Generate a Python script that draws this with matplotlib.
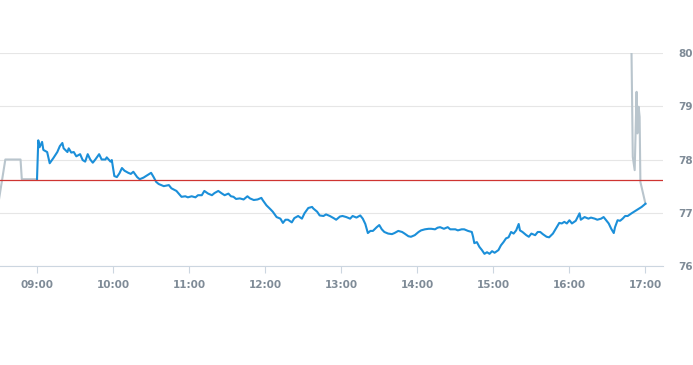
import matplotlib
matplotlib.use("Agg")
import matplotlib.pyplot as plt

# minutes after 09:00 and price
blue_minutes = [0, 1, 2, 4, 5, 8, 10, 13, 16, 18, 20, 21, 24, 25, 27, 29, 31, 34, 36, 38,
                40, 42, 44, 46, 49, 51, 54, 55, 58, 59, 61, 63, 65, 67, 69, 72, 74, 76, 79, 81,
                84, 86, 90, 92, 94, 96, 100, 104, 106, 110, 114, 117, 119, 122, 125, 127, 130,
                132, 135, 138, 140, 143, 146, 148, 151, 153, 155, 157, 160, 163, 166, 168, 171,
                174, 177, 178, 181, 184, 186, 189, 192, 194, 196, 198, 201, 203, 206, 209, 211,
                214, 217, 218, 221, 223, 226, 228, 231, 234, 236, 239, 241, 244, 247, 249, 252,
                255, 257, 259, 261, 263, 265, 268, 270, 272, 274, 277, 280, 282, 285, 288, 290,
                293, 295, 298, 301, 303, 306, 309, 311, 314, 316, 318, 321, 324, 326, 330, 332,
                335, 337, 340, 343, 344, 345, 347, 349, 351, 353, 355, 357, 359, 361, 364, 366,
                368, 370, 372, 374, 376, 378, 380, 381, 383, 386, 388, 390, 393, 395, 397, 399,
                402, 404, 407, 410, 412, 414, 416, 418, 420, 422, 425, 428, 429, 432, 435, 437,
                440, 442, 445, 447, 449, 451, 453, 455, 456, 458, 460, 462, 464, 466, 469, 473,
                477, 480]
blue_values = [77.63, 78.36, 78.23, 78.33, 78.18, 78.14, 77.93, 78.03, 78.14, 78.25, 78.31,
               78.21, 78.14, 78.21, 78.13, 78.14, 78.06, 78.10, 77.99, 77.96, 78.10, 78.00,
               77.94, 78.00, 78.10, 78.00, 78.00, 78.04, 77.96, 77.99, 77.69, 77.67, 77.74,
               77.84, 77.79, 77.75, 77.73, 77.77, 77.67, 77.63, 77.66, 77.69, 77.75, 77.67,
               77.58, 77.54, 77.50, 77.52, 77.46, 77.41, 77.30, 77.31, 77.29, 77.31, 77.29,
               77.33, 77.33, 77.41, 77.36, 77.33, 77.37, 77.41, 77.36, 77.33, 77.36, 77.31,
               77.30, 77.26, 77.27, 77.25, 77.31, 77.27, 77.24, 77.25, 77.28, 77.24, 77.14,
               77.07, 77.02, 76.92, 76.89, 76.81, 76.87, 76.87, 76.82, 76.90, 76.94, 76.89,
               76.99, 77.09, 77.11, 77.08, 77.02, 76.95, 76.94, 76.97, 76.94, 76.90, 76.87,
               76.93, 76.94, 76.92, 76.89, 76.94, 76.91, 76.95, 76.89, 76.79, 76.62, 76.66,
               76.66, 76.73, 76.77, 76.69, 76.64, 76.61, 76.60, 76.62, 76.66, 76.64, 76.61,
               76.56, 76.55, 76.58, 76.64, 76.67, 76.69, 76.70, 76.70, 76.69, 76.72, 76.73,
               76.70, 76.73, 76.69, 76.69, 76.67, 76.69, 76.69, 76.66, 76.64, 76.55, 76.43,
               76.45, 76.36, 76.30, 76.23, 76.26, 76.23, 76.28, 76.25, 76.30, 76.39, 76.45,
               76.52, 76.54, 76.64, 76.61, 76.67, 76.79, 76.67, 76.64, 76.58, 76.55, 76.61,
               76.58, 76.64, 76.64, 76.60, 76.55, 76.54, 76.61, 76.73, 76.81, 76.80, 76.83,
               76.80, 76.86, 76.80, 76.85, 76.99, 76.87, 76.92, 76.89, 76.91, 76.89, 76.87,
               76.89, 76.92, 76.86, 76.80, 76.70, 76.62, 76.73, 76.86, 76.85, 76.89, 76.94,
               76.94, 76.99, 77.05, 77.11, 77.17]

pre_minutes = [-32, -25, -13, -12, -1, 0]
pre_values = [76.95, 78.00, 78.00, 77.63, 77.63, 77.63]

post_minutes = [469, 470, 471.5, 473, 473.6, 474.6, 475.4, 476, 480]
post_values = [80.00, 78.05, 77.80, 79.27, 78.49, 78.99, 78.80, 77.58, 77.17]

prev_close = 77.62

x_ticks = [0, 60, 120, 180, 240, 300, 360, 420, 480]
x_labels = ["09:00", "10:00", "11:00", "12:00", "13:00", "14:00", "15:00", "16:00", "17:00"]
y_ticks = [76, 77, 78, 79, 80]

BLUE = "#1b8fd9"
GREY = "#b9c5cd"
RED = "#cf3431"
LABEL = "#7f8b97"

fig = plt.figure(figsize=(6.93, 3.65), dpi=100)
ax = fig.add_axes([0.0, 0.271, 0.957, 0.584])

ax.plot(pre_minutes, pre_values, color=GREY, linewidth=1.5, solid_joinstyle="round", zorder=2)
ax.plot(post_minutes, post_values, color=GREY, linewidth=1.5, solid_joinstyle="round", zorder=2)
ax.plot(blue_minutes, blue_values, color=BLUE, linewidth=1.5, solid_joinstyle="round", zorder=3)
ax.axhline(prev_close, color=RED, linewidth=0.9, zorder=4)

ax.set_xlim(-29.2, 494)
ax.set_ylim(76, 80)

ax.set_xticks(x_ticks)
ax.set_xticklabels(x_labels)
ax.set_yticks(y_ticks)
ax.yaxis.tick_right()
ax.tick_params(axis="y", length=0, pad=11, labelsize=7.5, labelcolor=LABEL)
ax.tick_params(axis="x", length=5, width=0.8, color="#ccd6e0", pad=5,
               labelsize=7.5, labelcolor=LABEL)
for lab in ax.get_xticklabels() + ax.get_yticklabels():
    lab.set_fontweight("bold")

ax.grid(axis="y", color="#e6e6e6", linewidth=0.8, zorder=0)
for side in ["top", "left", "right"]:
    ax.spines[side].set_visible(False)
ax.spines["bottom"].set_color("#ccd6e0")
ax.spines["bottom"].set_linewidth(0.8)
ax.set_axisbelow(True)

fig.savefig("out.png", dpi=100)
